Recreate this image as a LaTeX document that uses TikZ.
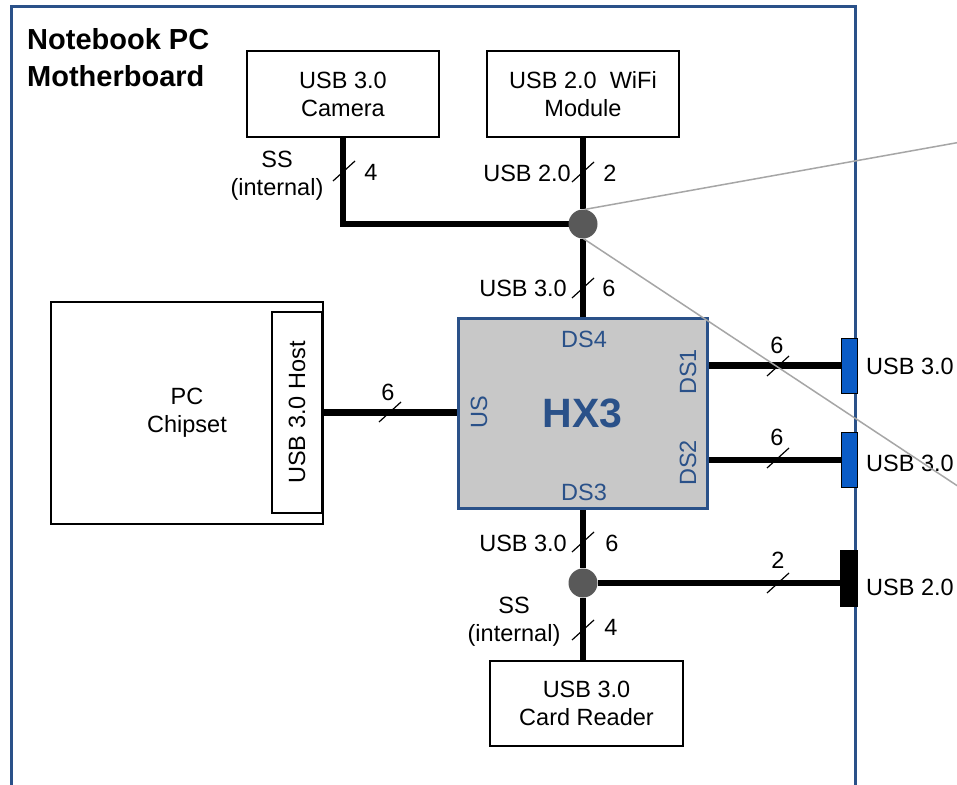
\documentclass[tikz,border=0pt]{standalone}
\usepackage{fontspec}
\setmainfont{Liberation Sans}
\usetikzlibrary{backgrounds}
\definecolor{boardblue}{HTML}{2A5189}
\definecolor{hubgray}{HTML}{C8C8C8}
\definecolor{portblue}{HTML}{0B5CC6}
\definecolor{dotgray}{HTML}{595959}
\definecolor{zoomgray}{HTML}{A6A6A6}
\tikzset{
  % kort och block
  board/.style={draw=boardblue,line width=3pt},
  box/.style={draw=black,line width=1.5pt,fill=white,inner sep=0pt,align=center,
              minimum width=192pt,minimum height=86pt},
  hub/.style={draw=boardblue,fill=hubgray,line width=3pt,inner sep=0pt,
              minimum width=249pt,minimum height=190pt,text=boardblue,
              font=\fontsize{41}{46}\selectfont\bfseries},
  pinlbl/.style={text=boardblue,inner sep=0pt},
  port/.style={draw=black,line width=1pt,inner sep=0pt,minimum width=16pt,minimum height=55pt},
  dot/.style={circle,fill=dotgray,inner sep=0pt,minimum size=29pt},
  % ledningar
  bus/.style={draw=black,line width=6.5pt},
  lbl/.style={inner sep=0pt,align=center},
  zoomln/.style={draw=zoomgray,line width=1.5pt},
  slash/.pic={\draw[line width=1.2pt] (-11,10) -- (11,-10);},
}
\begin{document}
\begin{tikzpicture}[x=1pt,y=-1pt,every node/.append style={font=\fontsize{23.5}{28}\selectfont}]
  \useasboundingbox (0,0) rectangle (957,784);
  \clip (0,0) rectangle (957,784);
  \draw[board] (11,7) rectangle (855,820);
  \node[lbl,anchor=north west,align=left,font=\fontsize{29}{37}\selectfont\bfseries]
    (title) at (27,28) {Notebook PC\\Motherboard};
  \node[box] (cam) at (343,94) {USB 3.0\\Camera};
  \node[box] (wifi) at (583,94) {USB 2.0~~WiFi\\Module};
  \node[dot] (jt) at (583,224) {};
  \node[hub] (hx3) at (582.5,413) {HX3};
  \node[pinlbl] (ds4) at (584,339) {DS4};
  \node[pinlbl] (ds3) at (584,492) {DS3};
  \node[pinlbl,rotate=90] (us) at (479,412) {US};
  \node[pinlbl,rotate=90] (ds1) at (688,372) {DS1};
  \node[pinlbl,rotate=90] (ds2) at (688,463) {DS2};
  \node[box,minimum width=272pt,minimum height=222pt] (chip) at (187,413) {PC\\Chipset};
  \node[box,minimum width=50pt,minimum height=201pt] (host) at (297,412.5) {};
  \node[lbl,rotate=90] (hosttxt) at (host) {USB 3.0 Host};
  \node[port,fill=portblue] (p1) at (849,365.5) {};
  \node[port,fill=portblue] (p2) at (849,460) {};
  \node[port,fill=black,minimum width=17pt,minimum height=56pt] (p3) at (848.5,578) {};
  \node[lbl,anchor=west] (u1) at (866,366) {USB 3.0};
  \node[lbl,anchor=west] (u2) at (866,463) {USB 3.0};
  \node[lbl,anchor=west] (u3) at (866,587) {USB 2.0};
  \node[dot] (jb) at (583,583) {};
  \node[box,minimum width=193pt,minimum height=85pt] (card) at (586.5,703.5) {USB 3.0\\Card Reader};
  \begin{scope}[on background layer]
  \fill[white] (0,0) rectangle (957,784);
  \draw[bus] (cam) |- (jt.center);
  \draw[bus] (wifi) -- (jt);
  \draw[bus] (jt) -- (jt |- hx3.north);
  \draw[bus] (host.east) -- (host.east -| hx3.west);
  \draw[bus] (hx3.east |- p1) -- (p1.west);
  \draw[bus] (hx3.east |- p2) -- (p2.west);
  \draw[bus] (jb |- hx3.south) -- (jb);
  \draw[bus] (jb) -- (jb -| p3.west);
  \draw[bus] (jb) -- (jb |- card.north);
  \end{scope}
  % bussbredd
  \foreach \p in {(344,171),(583,172),(583,288),(390,412),(778,366),
                  (778,458),(583,542),(778,583),(583,630)}
    \pic at \p {slash};
  \node[lbl] (ss1) at (277,176) {SS\\(internal)};
  \node[lbl] (n4a) at (371,172) {4};
  \node[lbl,anchor=east] (u20) at (571,173) {USB 2.0};
  \node[lbl] (n2a) at (610,173) {2};
  \node[lbl,anchor=east] (u30a) at (567,288) {USB 3.0};
  \node[lbl] (n6a) at (609,288) {6};
  \node[lbl] (n6b) at (388,392) {6};
  \node[lbl] (n6c) at (777,345) {6};
  \node[lbl] (n6d) at (777,437) {6};
  \node[lbl,anchor=east] (u30b) at (567,543) {USB 3.0};
  \node[lbl] (n6e) at (612,543) {6};
  \node[lbl] (n2b) at (778,560) {2};
  \node[lbl] (ss2) at (514,622) {SS\\(internal)};
  \node[lbl] (n4b) at (611,627) {4};
  % förstoring
  \coordinate (fa) at (1000,135);
  \coordinate (fb) at (1000,514);
  \draw[zoomln] (jt.83) -- (fa);
  \draw[zoomln] (jt.-88) -- (fb);
\end{tikzpicture}
\end{document}
